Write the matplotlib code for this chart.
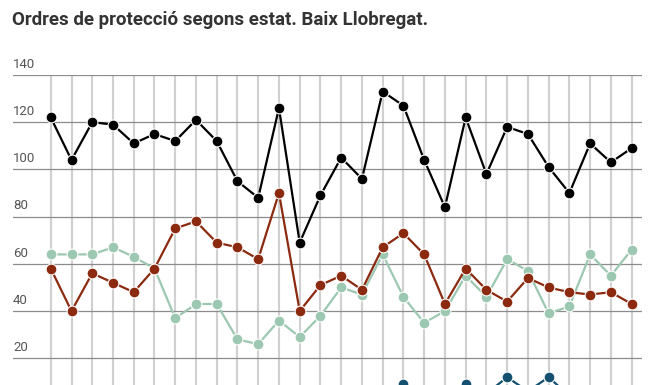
import matplotlib.pyplot as plt

# Ordres de protecció segons estat, Baix Llobregat (29 periods)
periods = list(range(29))
total = [122, 104, 120, 119, 111, 115, 112, 121, 112, 95, 88, 126, 69, 89, 105,
         96, 133, 127, 104, 84, 122, 98, 118, 115, 101, 90, 111, 103, 109]
red_series = [58, 40, 56, 52, 48, 58, 75, 78, 69, 67, 62, 90, 40, 51, 55,
              49, 67, 73, 64, 43, 58, 49, 44, 54, 50, 48, 47, 48, 43]
green_series = [64, 64, 64, 67, 63, 58, 37, 43, 43, 28, 26, 36, 29, 38, 50,
                47, 64, 46, 35, 40, 55, 46, 62, 57, 39, 42, 64, 55, 66]
# mostly below the visible area of the reference
blue_series = [2, 1, 3, 2, 4, 3, 2, 1, 3, 2, 4, 3, 1, 2, 4,
               3, 5, 9, 4, 3, 9, 5, 12, 6, 12, 4, 3, 5, 2]
y_ticks = [20, 40, 60, 80, 100, 120, 140]

W, H = 654, 385
fig = plt.figure(figsize=(W / 100, H / 100), dpi=100)
fig.patch.set_facecolor('white')

# axes spans 140 at y=75px down to 0 at y=405px (bottom is cut off, like the reference)
left, right, top, bottom = 13, 642, 75, 405.5
ax = fig.add_axes([left / W, (H - bottom) / H, (right - left) / W, (bottom - top) / H])
ax.set_xlim(-1.82, 28.5)
ax.set_ylim(0, 140)
ax.axis('off')

for p in periods:
    ax.plot([p, p], [0, 140], color='#d0d0d0', lw=1.5, zorder=1, solid_capstyle='butt')
for v in y_ticks:
    ax.axhline(v, color='#8c8c8c', lw=0.9, zorder=2)
    ax.annotate(str(v), xy=(-1.82, v), xytext=(0, 3), textcoords='offset points',
                ha='left', va='bottom', fontsize=9.5, color='#555555', family='Roboto')

styles = [
    (green_series, '#9cc7b0'),
    (red_series, '#8c2a10'),
    (total, '#000000'),
    (blue_series, '#14506f'),
]
for i, (vals, col) in enumerate(styles):
    ax.plot(periods, vals, color=col, lw=1.6, marker='o', markersize=7.8,
            markerfacecolor=col, markeredgecolor='white', markeredgewidth=0.8,
            zorder=3 + i, clip_on=False)

fig.text(12 / W, 1 - 20 / H, 'Ordres de protecció segons estat. Baix Llobregat.',
         ha='left', va='center', fontsize=13.5, fontweight='bold',
         color='#333333', family='Roboto')

fig.savefig('out.png', dpi=100)
